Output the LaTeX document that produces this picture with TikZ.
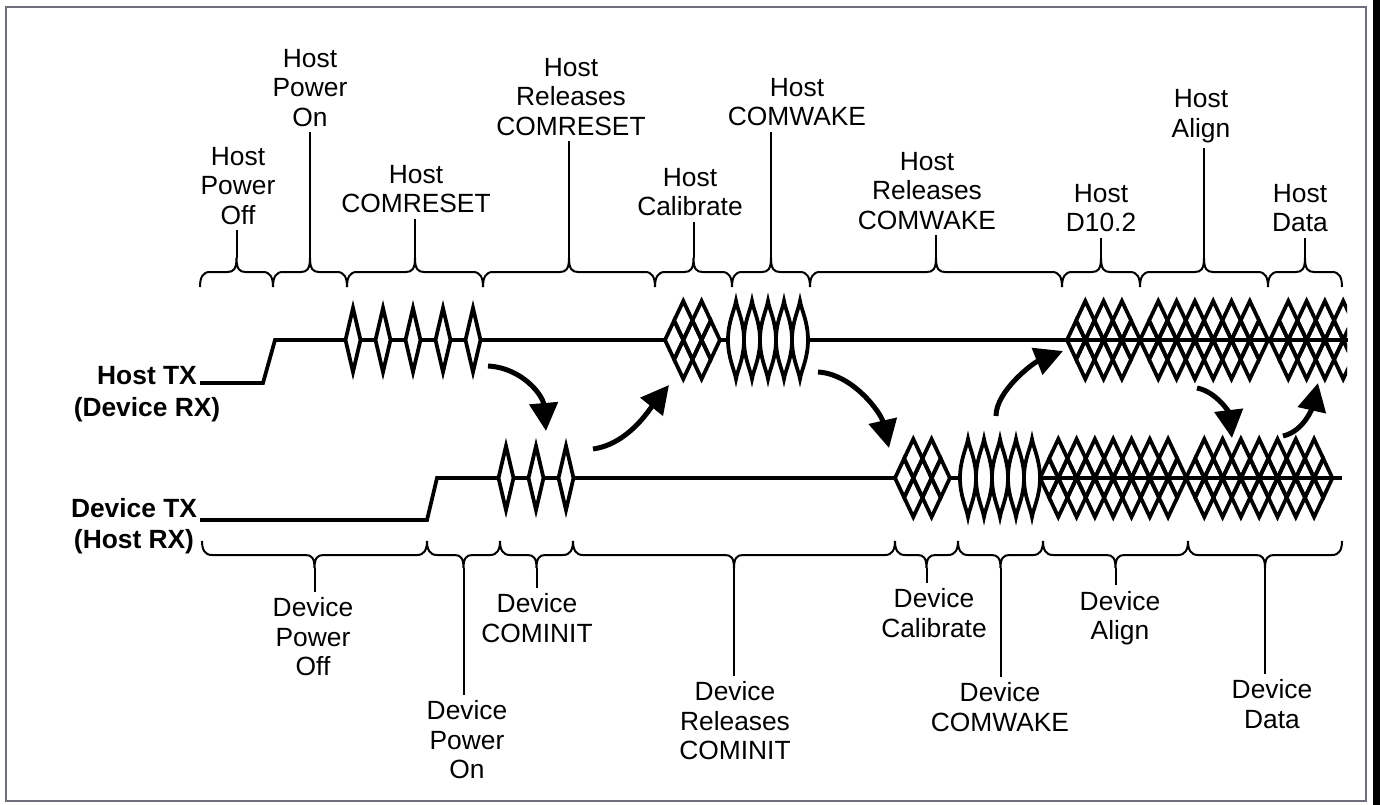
\documentclass[tikz,border=0pt]{standalone}
\usepackage{fontspec}
\setmainfont{Liberation Sans}
\usetikzlibrary{arrows.meta}
\definecolor{framecol}{RGB}{110,110,125}
\tikzset{
  sig/.style={line width=0.075cm, line join=miter},
  brc/.style={line width=0.04cm},
  lbl/.style={align=center, inner sep=3pt, font=\fontsize{15pt}{16.8pt}\selectfont},
  sidelbl/.style={align=center, inner sep=0pt, font=\bfseries\fontsize{15pt}{18pt}\selectfont},
  handoff/.style={line width=0.1cm, -{Triangle[length=0.56cm,width=0.56cm]}}
}
\begin{document}
\begin{tikzpicture}[x=0.02cm, y=-0.02cm]
  \useasboundingbox (0,0) rectangle (1380,805);
  \draw[framecol, line width=0.05cm] (6,7) rectangle (1366,801);
  \fill (1373,0) rectangle (1380,805);

  \node[sidelbl] (htx) at (147,394) {Host TX\\(Device RX)};
  \node[sidelbl] (dtx) at (134,526) {Device TX\\(Host RX)};

  % lines
  \draw[sig] (200,383) -- (263,383) -- (275,340) -- (665,340);
  \draw[sig] (720,340) -- (728,340);
  \draw[sig] (808,340) -- (1348,340);
  \draw[sig] (200,520) -- (427,520) -- (437,478) -- (895,478);
  \draw[sig] (950,478) -- (960,478);
  \draw[sig] (1040,478) -- (1342,478);

  % COMRESET and COMINIT bursts
  \foreach \c in {353,383,...,473}
    \draw[sig, fill=white] (\c-7.5,340) -- (\c,308) -- (\c+7.5,340) -- (\c,372) -- cycle;
  \foreach \c in {506,536,566}
    \draw[sig, fill=white] (\c-7.5,478) -- (\c,446) -- (\c+7.5,478) -- (\c,510) -- cycle;
  % COMWAKE bursts
  \foreach \x/\y in {728/340, 960/478}
    \foreach \k in {0,...,4}
      \draw[sig] ({\x+16*\k},\y) .. controls ({\x+16*\k},\y-18) and ({\x+16*\k+6.5},\y-30) .. ({\x+16*\k+8},\y-39)
        .. controls ({\x+16*\k+9.5},\y-30) and ({\x+16*\k+16},\y-18) .. ({\x+16*\k+16},\y)
        .. controls ({\x+16*\k+16},\y+18) and ({\x+16*\k+9.5},\y+30) .. ({\x+16*\k+8},\y+39)
        .. controls ({\x+16*\k+6.5},\y+30) and ({\x+16*\k},\y+18) .. cycle;

  % lattices (calibrate, d10.2, align, data)
  \begin{scope}
    \clip (0,0) rectangle (1347,805);
    \foreach \x/\y/\n in {665/340/3, 1067/340/4, 1140/340/7, 1270/340/5, 895/478/3, 1040/478/8, 1186/478/8}{
      \pgfmathtruncatemacro\m{\n-1}
      \foreach \j in {1,...,\n} % middle row
        \draw[sig] ({\x+18.3*\j-18.3},\y) -- ++(9.15,-19.5) -- ++(9.15,19.5) -- ++(-9.15,19.5) -- cycle;
      \foreach \j in {1,...,\m} % upper and lower rows
        \foreach \s in {-1,1}
          \draw[sig] ({\x+18.3*\j-9.15},{\y+19.5*\s}) -- ++(9.15,-19.5) -- ++(9.15,19.5) -- ++(-9.15,19.5) -- cycle;
    }
  \end{scope}

  % host braces
  \foreach \a/\b/\lx/\ly/\n/\t in {200/273/238/186/hpoff/{Host\\Power\\Off},
      273/347/310/88/hpon/{Host\\Power\\On},
      347/483/416/189/hcr/{Host\\COMRESET},
      483/655/571/97/hrcr/{Host\\Releases\\COMRESET},
      655/732/690/192/hcal/{Host\\Calibrate},
      732/810/797/102/hcw/{Host\\COMWAKE},
      810/1062/927/191/hrcw/{Host\\Releases\\COMWAKE},
      1062/1140/1101/208/hdten/{Host\\D10.2},
      1140/1268/1201/116/hal/{Host\\Align},
      1268/1342/1300/208/hdata/{Host\\Data}}{
    \pgfmathsetmacro\m{(\a+\b)/2}
    \draw[brc] (\a,287) .. controls (\a,277) and (\a+3,272) .. (\a+10,272) -- (\m-9,272)
      .. controls (\m-3,272) and (\m,269) .. (\m,258) .. controls (\m,269) and (\m+3,272) .. (\m+9,272)
      -- (\b-10,272) .. controls (\b-3,272) and (\b,277) .. (\b,287);
    \coordinate (\n) at (\m,258);
    \node[lbl] (l\n) at (\lx,\ly) {\t};
    \draw[brc] (\n) -- (\n |- l\n.south);
  }

  % device braces
  \foreach \a/\b/\lx/\ly/\n/\t in {202/427/313/637/dpoff/{Device\\Power\\Off},
      427/500/467/740/dpon/{Device\\Power\\On},
      500/573/537/618/dci/{Device\\COMINIT},
      573/895/735/721/drci/{Device\\Releases\\COMINIT},
      895/958/934/613/dcal/{Device\\Calibrate},
      958/1043/1000/707/dcw/{Device\\COMWAKE},
      1043/1188/1120/618/dal/{Device\\Align},
      1188/1342/1272/704/ddata/{Device\\Data}}{
    \pgfmathsetmacro\m{(\a+\b)/2}
    \draw[brc] (\a,541) .. controls (\a,550) and (\a+3,555) .. (\a+10,555) -- (\m-9,555)
      .. controls (\m-3,555) and (\m,558) .. (\m,568) .. controls (\m,558) and (\m+3,555) .. (\m+9,555)
      -- (\b-10,555) .. controls (\b-3,555) and (\b,550) .. (\b,541);
    \coordinate (\n) at (\m,568);
    \node[lbl] (l\n) at (\lx,\ly) {\t};
    \draw[brc] (\n) -- (\n |- l\n.north);
  }

  % handshake arrows
  \coordinate (a1s) at (488,366);  \coordinate (a1e) at (546,431);
  \coordinate (a2s) at (593,449);  \coordinate (a2e) at (669,385);
  \coordinate (a3s) at (818,372);  \coordinate (a3e) at (889,448);
  \coordinate (a4s) at (996,416);  \coordinate (a4e) at (1063,351);
  \coordinate (a5s) at (1197,388); \coordinate (a5e) at (1232,438);
  \coordinate (a6s) at (1283,436); \coordinate (a6e) at (1318,383);
  \draw[handoff] (a1s) .. controls +(35,2) and +(-3,-35) .. (a1e);
  \draw[handoff] (a2s) .. controls +(35,-5) and +(-20,25) .. (a2e);
  \draw[handoff] (a3s) .. controls +(35,2) and +(-8,-35) .. (a3e);
  \draw[handoff] (a4s) .. controls +(0,-25) and +(-30,12) .. (a4e);
  \draw[handoff] (a5s) .. controls +(20,4) and +(-3,-25) .. (a5e);
  \draw[handoff] (a6s) .. controls +(22,-5) and +(-5,22) .. (a6e);
\end{tikzpicture}
\end{document}
